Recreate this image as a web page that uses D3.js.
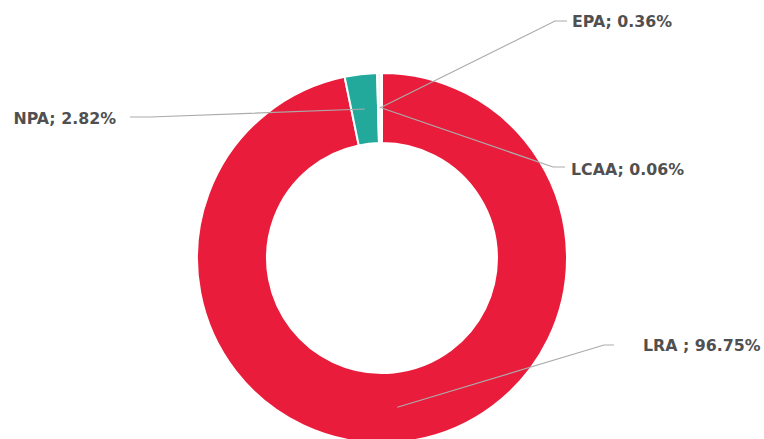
<!DOCTYPE html>
<html>
<head>
<meta charset="utf-8">
<script src="https://cdn.jsdelivr.net/npm/d3@7/dist/d3.min.js"></script>
<style>
  html, body { margin: 0; padding: 0; background: #fff; }
  svg { display: block; }
  .lbl { font-family: "DejaVu Sans", sans-serif; font-weight: bold; font-size: 15.8px; fill: #505050; }
</style>
</head>
<body>
<svg id="chart" width="764" height="439"></svg>
<script>
// Share of area by category (percent)
const categories = ["LRA", "NPA", "EPA", "LCAA"];
const values = [96.75, 2.82, 0.36, 0.06];
const labels = ["LRA ; 96.75%", "NPA; 2.82%", "EPA; 0.36%", "LCAA; 0.06%"];
const colors = ["#e91c3b", "#22a99b", "#f3f5f5", "#e0e0e0"];

// Where each callout text sits and where its leader bends
const callouts = {
  LRA:  { elbow: [604, 345], end: [614, 345], text: [643, 345], anchor: "start" },
  NPA:  { elbow: [150, 117], end: [130, 117], text: [116, 118], anchor: "end" },
  EPA:  { elbow: [555, 21],  end: [567, 21],  text: [572, 21],  anchor: "start" },
  LCAA: { elbow: [553, 167], end: [565, 167], text: [571, 169], anchor: "start" }
};

const svg = d3.select("#chart");
const cx = 382, cy = 258, rOuter = 185, rInner = 115;

const data = categories.map((c, i) => ({ name: c, value: values[i], label: labels[i], color: colors[i] }));

const pie = d3.pie().value(d => d.value).sort(null);
const arc = d3.arc().innerRadius(rInner).outerRadius(rOuter);
const mid = d3.arc().innerRadius(150).outerRadius(150);

const g = svg.append("g").attr("transform", `translate(${cx},${cy})`);
const arcs = pie(data);

g.selectAll("path.slice")
  .data(arcs)
  .join("path")
  .attr("class", "slice")
  .attr("d", arc)
  .attr("fill", d => d.data.color)
  .attr("stroke", "#fff")
  .attr("stroke-width", 2);

// Leader lines and callout texts
const lines = svg.append("g");
arcs.forEach(a => {
  const co = callouts[a.data.name];
  const c = mid.centroid(a);
  const p0 = [c[0] + cx, c[1] + cy];
  lines.append("polyline")
    .attr("points", [p0, co.elbow, co.end].map(p => p.join(",")).join(" "))
    .attr("fill", "none")
    .attr("stroke", "#ababab")
    .attr("stroke-width", 1.2);
  svg.append("text")
    .attr("class", "lbl")
    .attr("x", co.text[0])
    .attr("y", co.text[1])
    .attr("dominant-baseline", "central")
    .attr("text-anchor", co.anchor)
    .text(a.data.label);
});
</script>
</body>
</html>
